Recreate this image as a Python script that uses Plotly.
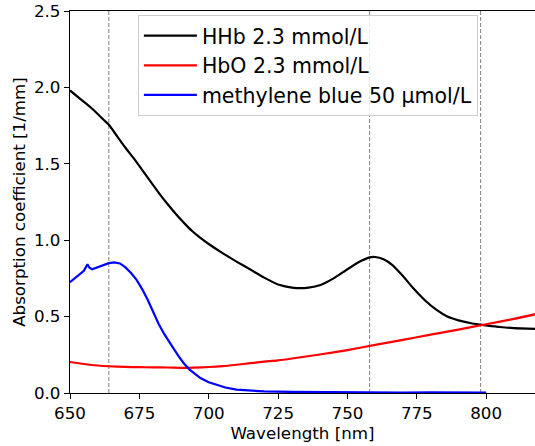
import plotly.graph_objects as go

# ---- data ----
wl_hhb = [650, 654, 658, 662, 664, 667, 670, 673, 676, 679, 682, 685, 688, 691, 694, 697,
          700, 705, 710, 715, 720, 725, 730, 733, 736, 740, 745, 750, 755, 758, 760, 763,
          766, 770, 774, 778, 782, 786, 790, 795, 800, 805, 810, 818]
hhb = [1.98, 1.92, 1.86, 1.79, 1.755, 1.68, 1.605, 1.535, 1.46, 1.385, 1.31, 1.24, 1.175,
       1.115, 1.06, 1.015, 0.975, 0.915, 0.86, 0.808, 0.755, 0.71, 0.69, 0.686, 0.69, 0.705,
       0.75, 0.81, 0.865, 0.888, 0.89, 0.875, 0.84, 0.765, 0.68, 0.605, 0.545, 0.50, 0.475,
       0.455, 0.443, 0.432, 0.425, 0.42]

wl_hbo = [650, 655, 660, 664, 670, 675, 680, 685, 690, 695, 700, 705, 710, 715, 720, 725,
          730, 740, 750, 760, 770, 780, 790, 800, 810, 818]
hbo = [0.203, 0.19, 0.18, 0.175, 0.171, 0.169, 0.168, 0.167, 0.165, 0.166, 0.17, 0.176,
       0.185, 0.195, 0.205, 0.214, 0.226, 0.252, 0.281, 0.315, 0.348, 0.382, 0.415, 0.45,
       0.485, 0.517]

wl_mb = [650, 652, 654, 655, 656.3, 657, 658, 660, 662, 664, 666, 668, 670, 672, 674, 676,
         678, 680, 682, 684, 685, 687, 689, 691, 693, 695, 697, 700, 703, 706, 710, 715, 720,
         730, 740, 750, 760, 770, 780, 790, 800]
mb = [0.725, 0.755, 0.785, 0.80, 0.843, 0.82, 0.81, 0.825, 0.838, 0.85, 0.855, 0.848, 0.822,
      0.785, 0.74, 0.68, 0.61, 0.53, 0.45, 0.385, 0.355, 0.30, 0.245, 0.195, 0.155, 0.125,
      0.098, 0.07, 0.052, 0.036, 0.022, 0.014, 0.01, 0.007, 0.005, 0.004, 0.004, 0.003,
      0.004, 0.003, 0.003]

markers = [664, 758, 798]
names = ["HHb 2.3 mmol/L", "HbO 2.3 mmol/L", "methylene blue 50 µmol/L"]
colors = ["black", "red", "blue"]
x_ticks = [650, 675, 700, 725, 750, 775, 800]
y_ticks = [0.0, 0.5, 1.0, 1.5, 2.0, 2.5]

FONT = "DejaVu Sans"

fig = go.Figure()
for x, y, n, c, shape in [(wl_hhb, hhb, names[0], colors[0], "spline"),
                          (wl_hbo, hbo, names[1], colors[1], "spline"),
                          (wl_mb, mb, names[2], colors[2], "linear")]:
    fig.add_trace(go.Scatter(x=x, y=y, mode="lines", name=n, legendgroup=n,
                             line=dict(color=c, width=2.2, shape=shape, smoothing=0.6)))

for m in markers:
    fig.add_vline(x=m, line=dict(color="#808080", width=1, dash="4px,2px"), layer="below")

fig.update_layout(
    width=535, height=446,
    margin=dict(l=70, r=0, t=11, b=53, autoexpand=False),
    plot_bgcolor="white", paper_bgcolor="white",
    font=dict(family=FONT, size=16.7, color="black"),
    showlegend=True,
    legend=dict(x=0.146, y=0.99, xanchor="left", yanchor="top",
                bgcolor="rgba(255,255,255,0.8)", bordercolor="#cccccc", borderwidth=1,
                font=dict(family=FONT, size=20.5, color="black"),
                tracegroupgap=0, itemwidth=53),
    xaxis=dict(range=[650, 817.6], tickvals=x_ticks, ticks="outside", ticklen=5,
               tickcolor="black", showline=True, linecolor="black", linewidth=1.2,
               mirror=True, showgrid=False, zeroline=False, automargin=False,
               tickfont=dict(family=FONT, size=16.7),
               title=dict(text="Wavelength [nm]", standoff=2,
                          font=dict(family=FONT, size=16.7))),
    yaxis=dict(range=[0, 2.5], tickvals=y_ticks, tickformat=".1f", ticks="outside",
               ticklen=5, tickcolor="black", showline=True, linecolor="black",
               linewidth=1.2, showgrid=False, zeroline=False, automargin=False,
               ticklabeloverflow="allow",
               tickfont=dict(family=FONT, size=16.7),
               title=dict(text="Absorption coefficient [1/mm]", standoff=4,
                          font=dict(family=FONT, size=16.7))),
)

fig.write_html("out.html",
               config={"displayModeBar": False, "staticPlot": True},
               post_script="document.body.style.margin='0';document.body.style.overflow='hidden';")
